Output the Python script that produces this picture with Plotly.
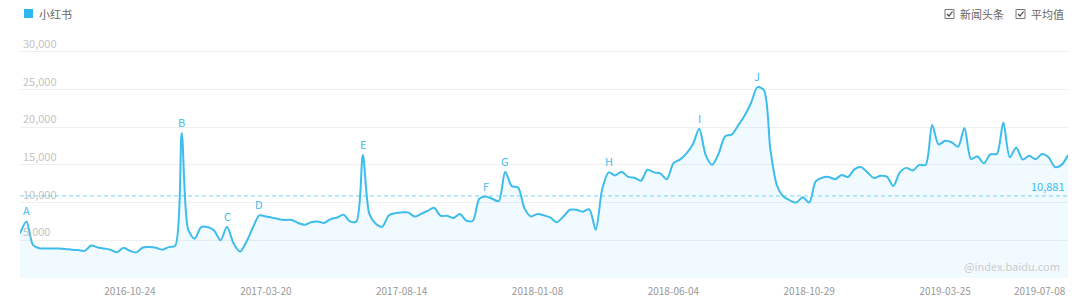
import plotly.graph_objects as go
import pandas as pd

# ---------------- data ----------------
start_date = "2016-06-27"
values = [5900, 7500, 4400, 3950, 3900, 3900, 3900, 3850, 3750, 3700,
          3600, 4300, 4050, 3900, 3750, 3400, 4000, 3600, 3400, 4050,
          4100, 4000, 3750, 4100, 4300, 19200, 6400, 5200, 6750, 6750,
          6300, 5000, 6800, 4600, 3500, 4800, 6700, 8300, 8150, 8000,
          7800, 7700, 7700, 7300, 7050, 7400, 7500, 7300, 7800, 8000,
          8400, 7500, 7500, 16300, 8500, 7200, 6800, 8300, 8600, 8700,
          8700, 8150, 8500, 8900, 9300, 8250, 8250, 7950, 8500, 7600,
          7600, 10500, 10800, 10500, 10200, 14100, 12200, 12000, 9200, 8150,
          8500, 8300, 8000, 7400, 8150, 9050, 9050, 8800, 9100, 6400,
          11800, 14000, 13600, 14100, 13400, 13300, 12900, 14350, 14000, 13850,
          13100, 15200, 15700, 16500, 17700, 19800, 16300, 15000, 16500, 18800,
          19000, 20200, 21500, 23200, 25300, 24900, 17000, 12300, 10800, 10300,
          10000, 10700, 10000, 12800, 13300, 13400, 13100, 13650, 13400, 14400,
          14700, 14000, 13250, 13550, 13450, 12200, 14000, 14600, 14250, 15000,
          15000, 20300, 17700, 18200, 18000, 17400, 19900, 15800, 16100, 15200,
          16400, 16450, 20600, 16000, 17300, 15700, 16200, 15750, 16450, 16000,
          14700, 15000, 16300]
dates = pd.date_range(start_date, periods=len(values), freq="7D")

average_value = 10881
event_labels = ["A", "B", "C", "D", "E", "F", "G", "H", "I", "J"]
event_index = [1, 25, 32, 37, 53, 72, 75, 91, 105, 114]

x_tick_dates = ["2016-10-24", "2017-03-20", "2017-08-14", "2018-01-08",
                "2018-06-04", "2018-10-29", "2019-03-25"]
last_x_label = "2019-07-08"
y_tick_values = [5000, 10000, 15000, 20000, 25000, 30000]
series_name = "小红书"
toggle_labels = ["新闻头条", "平均值"]
watermark = "@index.baidu.com"

# ---------------- style ----------------
W, H = 1080, 302
L, R, T, B = 20, 12, 34, 24
PW, PH = W - L - R, H - T - B
Y_MAX = 32350
LINE = "#3DBDEB"
FONT = "Noto Sans CJK SC, Noto Sans, sans-serif"


def fx(px):
    return (px - L) / PW


def fy(py):
    return (H - B - py) / PH


fig = go.Figure()
fig.add_trace(go.Scatter(
    x=dates, y=values, mode="lines",
    line=dict(color=LINE, width=2, shape="spline", smoothing=0.8),
    fill="tozeroy", fillcolor="rgba(61,189,235,0.075)",
    hoverinfo="skip", showlegend=False,
))

annotations = []
for lab, idx in zip(event_labels, event_index):
    annotations.append(dict(
        x=dates[idx], y=values[idx], text=lab, showarrow=False,
        yanchor="middle", yshift=11,
        font=dict(family=FONT, size=11, color=LINE),
    ))

# average label
annotations.append(dict(
    xref="paper", x=1, xanchor="right", y=average_value, yanchor="bottom",
    text=f"{average_value:,}", showarrow=False, xshift=-1,
    font=dict(family=FONT, size=11, color=LINE),
))
# last x label
annotations.append(dict(
    xref="paper", x=1, xanchor="right", yref="paper", y=fy(290), yanchor="middle",
    text=last_x_label, showarrow=False,
    font=dict(family=FONT, size=10, color="#999999"),
))
# legend text
annotations.append(dict(
    xref="paper", yref="paper", x=fx(37), y=fy(14), xanchor="left", yanchor="middle",
    text=series_name, showarrow=False, font=dict(family=FONT, size=11, color="#666666"),
))
# toggles
toggle_box_x = [945, 1016]
for bx, lab in zip(toggle_box_x, toggle_labels):
    annotations.append(dict(
        xref="paper", yref="paper", x=fx(bx + 13), y=fy(14), xanchor="left", yanchor="middle",
        text=lab, showarrow=False, font=dict(family=FONT, size=11, color="#666666"),
    ))
# watermark
annotations.append(dict(
    xref="paper", yref="paper", x=fx(1062), y=fy(266), xanchor="right", yanchor="middle",
    text=watermark, showarrow=False, font=dict(family=FONT, size=11, color="#cccccc"),
))

shapes = [
    dict(type="line", xref="paper", x0=0, x1=1, yref="y", y0=average_value, y1=average_value,
         line=dict(color="rgba(61,189,235,0.55)", width=1.3, dash="4px,3px"), layer="above"),
    dict(type="rect", xref="paper", yref="paper", x0=fx(24), x1=fx(33), y0=fy(18), y1=fy(9),
         fillcolor="#2DB7EE", line=dict(width=0)),
]
for bx in toggle_box_x:
    shapes.append(dict(type="rect", xref="paper", yref="paper",
                       x0=fx(bx), x1=fx(bx + 9), y0=fy(18.5), y1=fy(9.5),
                       line=dict(color="#777777", width=1), fillcolor="white"))
    shapes.append(dict(type="path", xref="paper", yref="paper",
                       path=f"M {fx(bx + 2)},{fy(14)} L {fx(bx + 4)},{fy(16)} L {fx(bx + 7.5)},{fy(11.5)}",
                       line=dict(color="#444444", width=1.2)))

fig.update_layout(
    width=W, height=H,
    margin=dict(l=L, r=R, t=T, b=B, pad=0, autoexpand=False),
    paper_bgcolor="white", plot_bgcolor="white",
    showlegend=False,
    font=dict(family=FONT),
    xaxis=dict(
        type="date", range=[dates[0], dates[-1]], automargin=False,
        tickvals=x_tick_dates, tickformat="%Y-%m-%d",
        showgrid=False, zeroline=False, showline=False,
        ticks="outside", ticklen=4, tickcolor="rgba(0,0,0,0)",
        tickfont=dict(family=FONT, size=10, color="#999999"),
    ),
    yaxis=dict(
        range=[0, Y_MAX], tickvals=y_tick_values, tickformat=",", automargin=False,
        ticklabelposition="inside top",
        tickfont=dict(family=FONT, size=11, color="#c4c4c4"),
        gridcolor="#efefef", gridwidth=1, zeroline=False, showline=False,
    ),
    annotations=annotations,
    shapes=shapes,
)

fig.write_html("out.html")
